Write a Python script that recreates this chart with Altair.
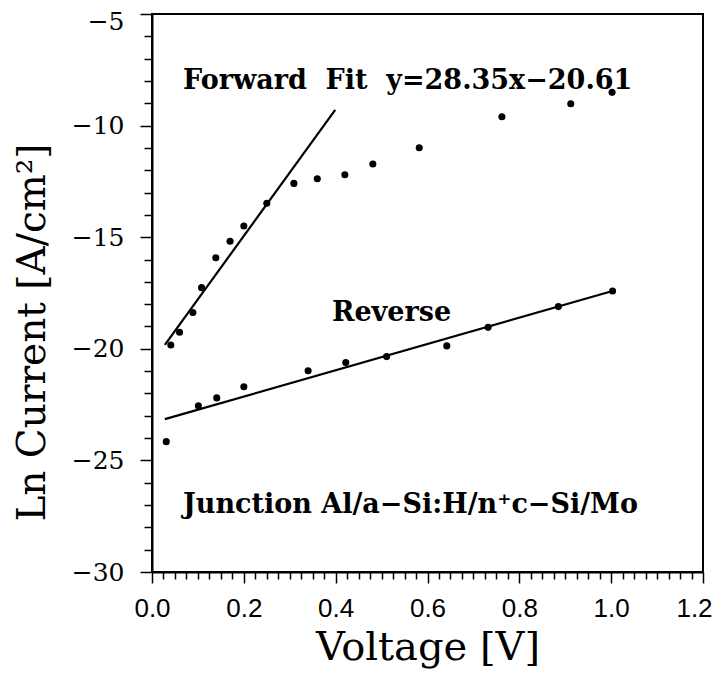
import altair as alt
import pandas as pd

# Forward bias measurements (Voltage [V], Ln current)
fwd_v = [0.041, 0.060, 0.089, 0.108, 0.139, 0.170, 0.200, 0.250, 0.309, 0.360,
         0.420, 0.481, 0.582, 0.762, 0.912, 1.002]
fwd_ln = [-19.83, -19.26, -18.37, -17.26, -15.92, -15.18, -14.50, -13.48, -12.59,
          -12.38, -12.20, -11.72, -10.99, -9.60, -9.02, -8.51]

# Reverse bias measurements
rev_v = [0.031, 0.101, 0.141, 0.200, 0.340, 0.422, 0.511, 0.642, 0.732, 0.885, 1.003]
rev_ln = [-24.16, -22.55, -22.20, -21.70, -20.98, -20.61, -20.35, -19.87, -19.04,
          -18.11, -17.41]

# Fit lines (end points)
fwd_fit_v = [0.028, 0.399]
fwd_fit_ln = [-19.82, -9.30]
rev_fit_v = [0.028, 1.003]
rev_fit_ln = [-23.15, -17.41]

# Annotations
ann_text = ["Forward\u00a0\u00a0Fit\u00a0\u00a0y=28.35x\u221220.61", "Reverse",
            "Junction Al/a\u2212Si:H/n\u207ac\u2212Si/Mo"]
ann_v = [0.0675, 0.392, 0.0675]
ann_ln = [-8.36, -18.75, -27.36]

rows = []
for v, l in zip(fwd_v, fwd_ln):
    rows.append({"v": v, "ln": l, "kind": "pt", "grp": "fwd", "label": ""})
for v, l in zip(rev_v, rev_ln):
    rows.append({"v": v, "ln": l, "kind": "pt", "grp": "rev", "label": ""})
for v, l in zip(fwd_fit_v, fwd_fit_ln):
    rows.append({"v": v, "ln": l, "kind": "fit", "grp": "fwdfit", "label": ""})
for v, l in zip(rev_fit_v, rev_fit_ln):
    rows.append({"v": v, "ln": l, "kind": "fit", "grp": "revfit", "label": ""})
for t, v, l in zip(ann_text, ann_v, ann_ln):
    rows.append({"v": v, "ln": l, "kind": "ann", "grp": "ann", "label": t})
df = pd.DataFrame(rows)

x_ticks = [round(i * 0.025, 3) for i in range(49)]
y_ticks = list(range(-30, -4))

x_major = "abs(round(datum.value*5) - datum.value*5) < 0.001"
y_major = "abs(datum.value % 5) < 0.001"

x_axis = alt.Axis(
    values=x_ticks,
    labelExpr=f"{x_major} ? format(datum.value, '.1f') : ''",
    tickSize={"condition": {"test": x_major, "value": 11}, "value": 7},
    labelOffset={"condition": {"test": "datum.value > 1.19", "value": -9}, "value": 0},
    labelFont="Liberation Sans", labelFontSize=26, labelPadding=12,
    labelOverlap=False, labelFlush=False,
    title="Voltage [V]", titleFont="DejaVu Serif", titleFontSize=40,
    titleFontWeight="normal", titlePadding=6,
    grid=False,
)
y_axis = alt.Axis(
    values=y_ticks,
    labelExpr=f"{y_major} ? datum.label : ''",
    tickSize={"condition": {"test": y_major, "value": 12}, "value": 8},
    labelOffset={"condition": {"test": "datum.value > -5.5", "value": 7}, "value": 0},
    labelFont="DejaVu Serif", labelFontSize=25, labelPadding=16,
    labelOverlap=False, labelFlush=False,
    title="Ln Current [A/cm\u00b2]", titleFont="DejaVu Serif", titleFontSize=39,
    titleFontWeight="normal", titleX=-100, titleY=318, titleBaseline="bottom",
    grid=False,
)

base = alt.Chart(df).encode(
    x=alt.X("v:Q", scale=alt.Scale(domain=[0, 1.2], nice=False, zero=False), axis=x_axis),
    y=alt.Y("ln:Q", scale=alt.Scale(domain=[-30, -5], nice=False, zero=False), axis=y_axis),
)

pts = base.transform_filter("datum.kind == 'pt'").mark_circle(
    size=50, color="black", opacity=1)
fwd_line = base.transform_filter("datum.grp == 'fwdfit'").mark_line(
    color="black", strokeWidth=2.2)
rev_line = base.transform_filter("datum.grp == 'revfit'").mark_line(
    color="black", strokeWidth=2.2)
texts = base.transform_filter("datum.kind == 'ann'").mark_text(
    align="left", baseline="alphabetic", font="DejaVu Serif", fontSize=27,
    fontWeight="bold", color="black").encode(text="label:N")

chart = alt.layer(fwd_line, rev_line, pts, texts).properties(
    width=551, height=558,
    autosize=alt.AutoSizeParams(type="none"),
    padding={"left": 144, "top": 6, "right": 11, "bottom": 103},
).configure_view(
    stroke="black", strokeWidth=2
).configure_axis(
    domainColor="black", domainWidth=2, tickColor="black", tickWidth=1.5,
    labelColor="black", titleColor="black",
)

chart.save("out.html", embed_options={"renderer": "svg", "actions": False})
